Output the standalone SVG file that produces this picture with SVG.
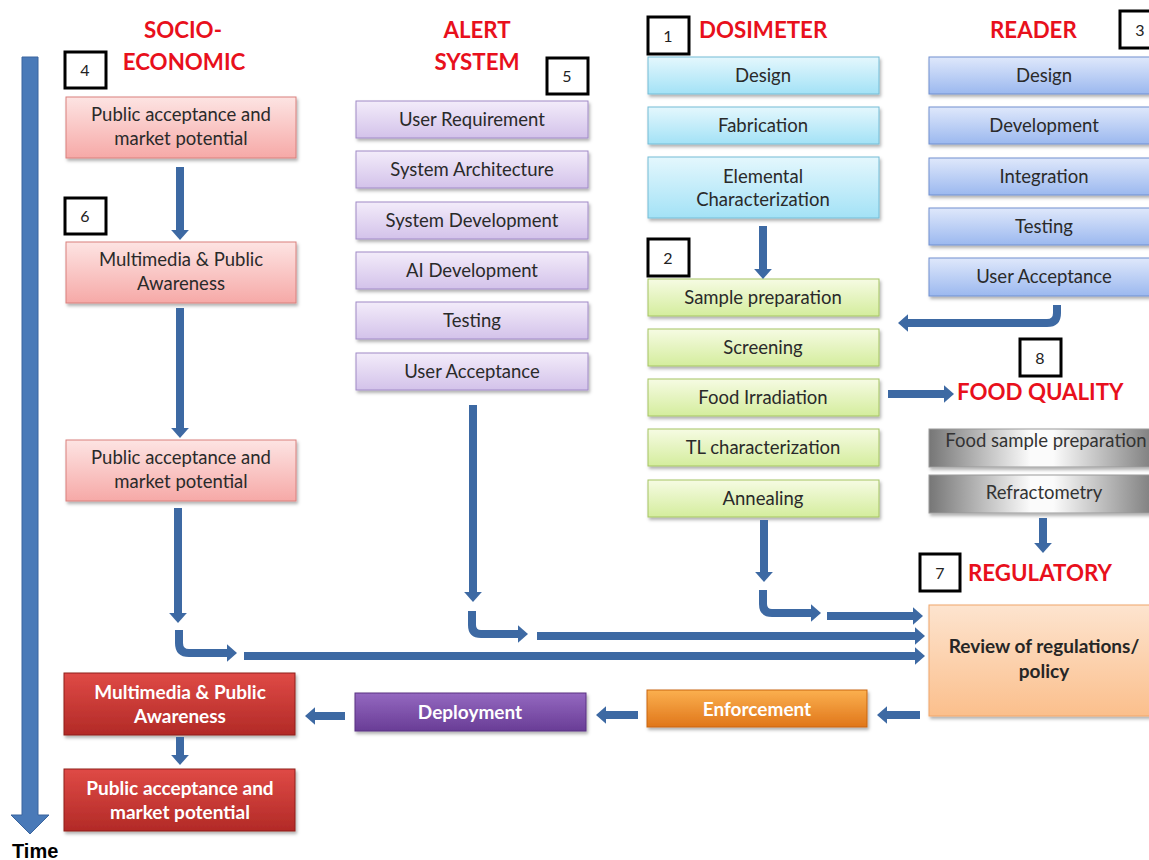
<svg xmlns="http://www.w3.org/2000/svg" width="1149" height="860" viewBox="0 0 1149 860">
<defs>
<linearGradient id="gPink" x1="0" y1="0" x2="0" y2="1"><stop offset="0" stop-color="#fde4e3"/><stop offset="1" stop-color="#f6a9a7"/></linearGradient>
<linearGradient id="gLav" x1="0" y1="0" x2="0" y2="1"><stop offset="0" stop-color="#f3ecfa"/><stop offset="1" stop-color="#d3c2ea"/></linearGradient>
<linearGradient id="gCyan" x1="0" y1="0" x2="0" y2="1"><stop offset="0" stop-color="#e4f7fd"/><stop offset="1" stop-color="#a3e2f6"/></linearGradient>
<linearGradient id="gGreen" x1="0" y1="0" x2="0" y2="1"><stop offset="0" stop-color="#f6fbe3"/><stop offset="1" stop-color="#d4ed9d"/></linearGradient>
<linearGradient id="gBlue" x1="0" y1="0" x2="0" y2="1"><stop offset="0" stop-color="#dfe8fb"/><stop offset="1" stop-color="#9bb8ef"/></linearGradient>
<linearGradient id="gGrey" x1="0" y1="0" x2="1" y2="0"><stop offset="0" stop-color="#767676"/><stop offset="0.45" stop-color="#fbfbfb"/><stop offset="0.55" stop-color="#fbfbfb"/><stop offset="1" stop-color="#7c7c7c"/></linearGradient>
<linearGradient id="gPeach" x1="0" y1="0" x2="0" y2="1"><stop offset="0" stop-color="#fde4cf"/><stop offset="1" stop-color="#fbbf8c"/></linearGradient>
<linearGradient id="gOrange" x1="0" y1="0" x2="0" y2="1"><stop offset="0" stop-color="#fbb04f"/><stop offset="1" stop-color="#e0761a"/></linearGradient>
<linearGradient id="gPurple" x1="0" y1="0" x2="0" y2="1"><stop offset="0" stop-color="#9468c0"/><stop offset="1" stop-color="#693d96"/></linearGradient>
<linearGradient id="gRed" x1="0" y1="0" x2="0" y2="1"><stop offset="0" stop-color="#df4a46"/><stop offset="1" stop-color="#b22a27"/></linearGradient>
<filter id="sh" x="-10%" y="-20%" width="125%" height="150%"><feDropShadow dx="1.5" dy="2.5" stdDeviation="1.5" flood-color="#000" flood-opacity="0.3"/></filter>
<marker id="ah" viewBox="0 0 13 23" refX="0.5" refY="11.5" markerWidth="1.3" markerHeight="2.3" orient="auto" markerUnits="strokeWidth"><path d="M0,0 L13,11.5 L0,23 z" fill="#3d69a3"/></marker>
<style>
.lbl{font-family:Lato,"Open Sans",sans-serif;font-size:18.5px;fill:#2a2a2a;text-anchor:middle}
.wb{font-family:Lato,"Open Sans",sans-serif;font-size:19px;font-weight:bold;fill:#ffffff;text-anchor:middle}
.db{font-family:Lato,"Open Sans",sans-serif;font-size:19px;font-weight:bold;fill:#262626;text-anchor:middle}
.hd{font-family:Lato,"Open Sans",sans-serif;font-size:22.3px;font-weight:bold;fill:#e8101c}
.num{fill:#ffffff;stroke:#000;stroke-width:3}
.numt{font-family:Lato,"Open Sans",sans-serif;font-size:16px;fill:#222;text-anchor:middle}
.pink{fill:url(#gPink);stroke:#d9807c;stroke-width:1;filter:url(#sh)}
.lav{fill:url(#gLav);stroke:#a08ac6;stroke-width:1;filter:url(#sh)}
.cyan{fill:url(#gCyan);stroke:#74bcd6;stroke-width:1;filter:url(#sh)}
.green{fill:url(#gGreen);stroke:#a5c463;stroke-width:1;filter:url(#sh)}
.blue{fill:url(#gBlue);stroke:#7090cf;stroke-width:1;filter:url(#sh)}
.grey{fill:url(#gGrey);stroke:#9a9a9a;stroke-width:1;filter:url(#sh)}
.peach{fill:url(#gPeach);stroke:#f0a66a;stroke-width:1;filter:url(#sh)}
.orange{fill:url(#gOrange);stroke:#c9670f;stroke-width:1;filter:url(#sh)}
.purple{fill:url(#gPurple);stroke:#5a3282;stroke-width:1;filter:url(#sh)}
.red{fill:url(#gRed);stroke:#8f1f1d;stroke-width:1;filter:url(#sh)}
.ar{fill:none;stroke:#3d69a3;stroke-width:8;marker-end:url(#ah)}
</style>
</defs>
<rect width="1149" height="860" fill="#ffffff"/>

<!-- headers -->
<g id="headers">
<text class="hd" x="183" y="38" text-anchor="middle">SOCIO-</text>
<text class="hd" x="184" y="70" text-anchor="middle">ECONOMIC</text>
<text class="hd" x="477" y="38" text-anchor="middle">ALERT</text>
<text class="hd" x="477" y="70" text-anchor="middle">SYSTEM</text>
<text class="hd" x="699" y="38">DOSIMETER</text>
<text class="hd" x="990" y="38">READER</text>
<text class="hd" x="957" y="400">FOOD QUALITY</text>
<text class="hd" x="968" y="581">REGULATORY</text>
</g>

<!-- number tags -->
<g id="tag1"><rect class="num" x="648" y="17" width="41" height="37"/><text class="numt" x="668" y="42">1</text></g>
<g id="tag2"><rect class="num" x="648" y="239" width="41" height="37"/><text class="numt" x="668" y="264">2</text></g>
<g id="tag3"><rect class="num" x="1120" y="11" width="41" height="37"/><text class="numt" x="1140" y="36">3</text></g>
<g id="tag4"><rect class="num" x="65" y="52" width="41" height="36"/><text class="numt" x="85" y="76">4</text></g>
<g id="tag5"><rect class="num" x="547" y="58" width="41" height="36"/><text class="numt" x="567" y="82">5</text></g>
<g id="tag6"><rect class="num" x="65" y="198" width="41" height="36"/><text class="numt" x="85" y="222">6</text></g>
<g id="tag7"><rect class="num" x="920" y="554" width="40" height="37"/><text class="numt" x="940" y="579">7</text></g>
<g id="tag8"><rect class="num" x="1020" y="339" width="41" height="37"/><text class="numt" x="1040" y="364">8</text></g>

<!-- socio-economic -->
<g id="soc1"><rect class="pink" x="66" y="97" width="230" height="61"/><text class="lbl" x="181" y="121">Public acceptance and</text><text class="lbl" x="181" y="145">market potential</text></g>
<g id="soc2"><rect class="pink" x="66" y="242" width="230" height="61"/><text class="lbl" x="181" y="266">Multimedia &amp; Public</text><text class="lbl" x="181" y="290">Awareness</text></g>
<g id="soc3"><rect class="pink" x="66" y="440" width="230" height="61"/><text class="lbl" x="181" y="464">Public acceptance and</text><text class="lbl" x="181" y="488">market potential</text></g>
<g id="soc4"><rect class="red" x="64" y="673" width="231" height="62"/><text class="wb" x="180" y="699">Multimedia &amp; Public</text><text class="wb" x="180" y="723">Awareness</text></g>
<g id="soc5"><rect class="red" x="64" y="769" width="231" height="62"/><text class="wb" x="180" y="795">Public acceptance and</text><text class="wb" x="180" y="819">market potential</text></g>

<!-- alert system -->
<g id="al1"><rect class="lav" x="356" y="101" width="232" height="37"/><text class="lbl" x="472" y="126">User Requirement</text></g>
<g id="al2"><rect class="lav" x="356" y="151" width="232" height="37"/><text class="lbl" x="472" y="176">System Architecture</text></g>
<g id="al3"><rect class="lav" x="356" y="202" width="232" height="37"/><text class="lbl" x="472" y="227">System Development</text></g>
<g id="al4"><rect class="lav" x="356" y="252" width="232" height="37"/><text class="lbl" x="472" y="277">AI Development</text></g>
<g id="al5"><rect class="lav" x="356" y="302" width="232" height="37"/><text class="lbl" x="472" y="327">Testing</text></g>
<g id="al6"><rect class="lav" x="356" y="353" width="232" height="37"/><text class="lbl" x="472" y="378">User Acceptance</text></g>

<!-- dosimeter -->
<g id="do1"><rect class="cyan" x="648" y="57" width="231" height="37"/><text class="lbl" x="763" y="82">Design</text></g>
<g id="do2"><rect class="cyan" x="648" y="107" width="231" height="37"/><text class="lbl" x="763" y="132">Fabrication</text></g>
<g id="do3"><rect class="cyan" x="648" y="157" width="231" height="61"/><text class="lbl" x="763" y="183">Elemental</text><text class="lbl" x="763" y="206">Characterization</text></g>
<g id="dg1"><rect class="green" x="648" y="279" width="231" height="37"/><text class="lbl" x="763" y="304">Sample preparation</text></g>
<g id="dg2"><rect class="green" x="648" y="329" width="231" height="37"/><text class="lbl" x="763" y="354">Screening</text></g>
<g id="dg3"><rect class="green" x="648" y="379" width="231" height="37"/><text class="lbl" x="763" y="404">Food Irradiation</text></g>
<g id="dg4"><rect class="green" x="648" y="429" width="231" height="37"/><text class="lbl" x="763" y="454">TL characterization</text></g>
<g id="dg5"><rect class="green" x="648" y="480" width="231" height="37"/><text class="lbl" x="763" y="505">Annealing</text></g>

<!-- reader -->
<g id="rd1"><rect class="blue" x="929" y="57" width="226" height="37"/><text class="lbl" x="1044" y="82">Design</text></g>
<g id="rd2"><rect class="blue" x="929" y="107" width="226" height="37"/><text class="lbl" x="1044" y="132">Development</text></g>
<g id="rd3"><rect class="blue" x="929" y="158" width="226" height="37"/><text class="lbl" x="1044" y="183">Integration</text></g>
<g id="rd4"><rect class="blue" x="929" y="208" width="226" height="37"/><text class="lbl" x="1044" y="233">Testing</text></g>
<g id="rd5"><rect class="blue" x="929" y="258" width="226" height="38"/><text class="lbl" x="1044" y="283">User Acceptance</text></g>

<!-- food quality -->
<g id="fq1"><rect class="grey" x="929" y="429" width="226" height="38"/><text class="lbl" x="1046" y="447" style="fill:#333">Food sample preparation</text></g>
<g id="fq2"><rect class="grey" x="929" y="475" width="226" height="38"/><text class="lbl" x="1044" y="499" style="fill:#333">Refractometry</text></g>

<!-- regulatory -->
<g id="rg1"><rect class="peach" x="929" y="605" width="226" height="111"/><text class="db" x="1044" y="653">Review of regulations/</text><text class="db" x="1044" y="678">policy</text></g>
<g id="rg2"><rect class="orange" x="647" y="690" width="220" height="37"/><text class="wb" x="757" y="716">Enforcement</text></g>
<g id="rg3"><rect class="purple" x="355" y="693" width="231" height="38"/><text class="wb" x="470" y="719">Deployment</text></g>

<!-- connectors -->
<g id="connectors">
<polygon points="22,57 38,57 38,815 49,815 30,834 11,815 22,815" fill="#4a7ab8" stroke="#3a659e" stroke-width="1"/>
<path class="ar" d="M180,167 V230"/>
<path class="ar" d="M180,308 V428"/>
<path class="ar" d="M178,508 V613"/>
<path class="ar" d="M179,630 V643 Q179,653 189,653 H227" stroke-linejoin="round"/>
<path class="ar" d="M244,656 H915"/>
<path class="ar" d="M473,405 V592"/>
<path class="ar" d="M472,611 V625 Q472,634 481,634 H518"/>
<path class="ar" d="M537,636 H915"/>
<path class="ar" d="M764,520 V572"/>
<path class="ar" d="M763,590 V604 Q763,613 772,613 H811"/>
<path class="ar" d="M827,616 H913"/>
<path class="ar" d="M763,226 V269"/>
<path class="ar" d="M1057,305 V313 Q1057,323 1047,323 H908"/>
<path class="ar" d="M888,394 H944"/>
<path class="ar" d="M1043,518 V543"/>
<path class="ar" d="M920,715 H887"/>
<path class="ar" d="M638,715 H606"/>
<path class="ar" d="M345,716 H315"/>
<path class="ar" d="M180,737 V755"/>
</g>
<text x="12" y="858" style="font-family:'Liberation Sans',Arial,sans-serif;font-size:20px;font-weight:bold;fill:#000">Time</text>
</svg>
